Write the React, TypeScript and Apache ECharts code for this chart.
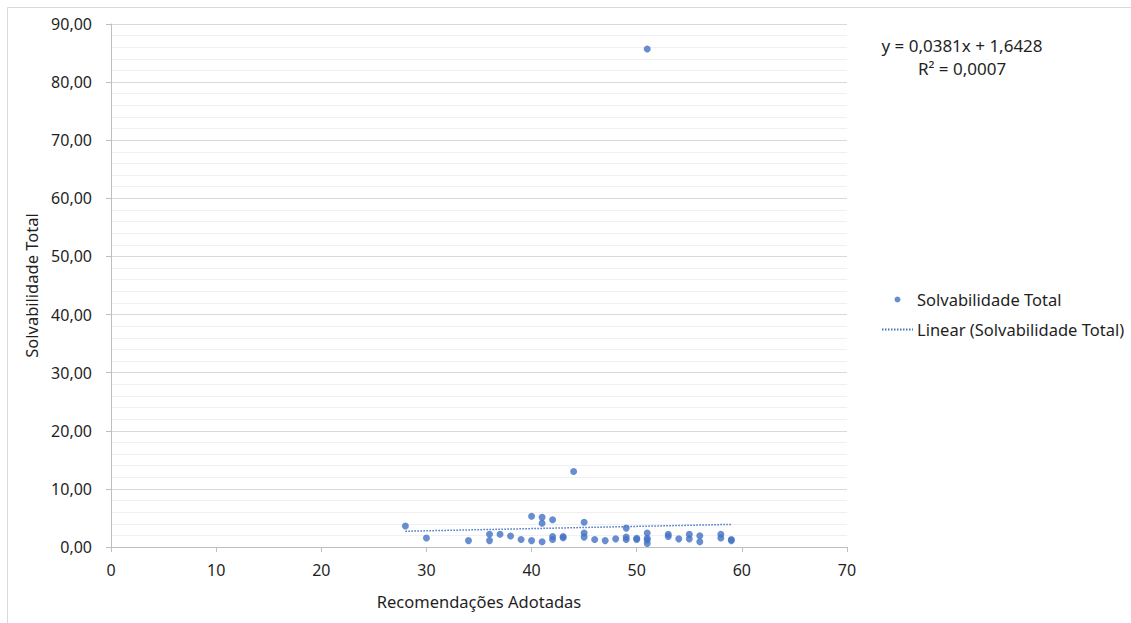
import React, { useEffect, useRef } from "react";
import * as echarts from "echarts";

// Recomendações adotadas (x) and solvabilidade total (y) per entity
const recomendacoes: number[] = [
  28, 30, 34, 36, 36, 37, 38, 39, 40, 40, 41, 41, 41, 42, 42, 42, 43, 43, 44,
  45, 45, 45, 46, 47, 48, 49, 49, 49, 50, 50, 51, 51, 51, 51, 51, 53, 53, 54,
  55, 55, 56, 56, 58, 58, 59, 59,
];
const solvabilidade: number[] = [
  3.6, 1.55, 1.1, 2.2, 1.1, 2.2, 1.9, 1.3, 5.3, 1.1, 5.1, 4.1, 0.9, 4.7, 1.8,
  1.3, 1.8, 1.6, 13.0, 4.25, 2.4, 1.7, 1.3, 1.1, 1.4, 3.25, 1.7, 1.3, 1.5, 1.3,
  85.7, 2.4, 1.5, 1.2, 0.6, 2.2, 1.8, 1.4, 2.2, 1.4, 1.95, 0.9, 2.2, 1.55, 1.3,
  1.1,
];

// Linear trend line as stated in the equation label
const slope = 0.0381;
const intercept = 1.6428;
const rSquared = 0.0007;
const trendRange: number[] = [28, 59];

const yTicks = { min: 0, max: 90, interval: 10 };
const xTicks = { min: 0, max: 70, interval: 10 };

const seriesName = "Solvabilidade Total";
const trendName = "Linear (Solvabilidade Total)";
const xTitle = "Recomendações Adotadas";
const yTitle = "Solvabilidade Total";

const fmt = (v: number, d: number) => v.toFixed(d).replace(".", ",");

const FONT = "'Noto Sans', 'Open Sans', sans-serif";
const TEXT = "#1f1f1f";
const BLUE = "#4472C4";

export default function App() {
  const ref = useRef<HTMLDivElement>(null);

  useEffect(() => {
    if (!ref.current) return;
    const chart = echarts.init(ref.current, undefined, { renderer: "svg" });

    const points = recomendacoes.map((x, i) => [x, solvabilidade[i]]);
    const trend = trendRange.map((x) => [x, slope * x + intercept]);

    chart.setOption({
      animation: false,
      backgroundColor: "#ffffff",
      textStyle: { fontFamily: FONT },
      grid: { left: 111, right: 284, top: 24, bottom: 76, containLabel: false },
      legend: {
        data: [
          { name: seriesName },
          { name: trendName, itemStyle: { color: "transparent", borderWidth: 0 } },
        ],
        orient: "vertical",
        left: 876,
        top: 286,
        itemWidth: 31,
        itemHeight: 6,
        itemGap: 13,
        textStyle: { fontFamily: FONT, fontSize: 16.5, color: TEXT, padding: [0, 0, 0, -1] },
        selectedMode: false,
      },
      xAxis: {
        type: "value",
        min: xTicks.min,
        max: xTicks.max,
        interval: xTicks.interval,
        name: xTitle,
        nameLocation: "middle",
        nameGap: 46,
        nameTextStyle: { fontFamily: FONT, fontSize: 16.5, color: TEXT },
        axisLine: { show: true, onZero: false, lineStyle: { color: "#bfbfbf", width: 1 } },
        axisTick: { show: true, length: 5, lineStyle: { color: "#bfbfbf" } },
        axisLabel: { fontFamily: FONT, fontSize: 16, color: TEXT, margin: 15 },
        splitLine: { show: false },
      },
      yAxis: {
        type: "value",
        min: yTicks.min,
        max: yTicks.max,
        interval: yTicks.interval,
        name: yTitle,
        nameLocation: "middle",
        nameGap: 71,
        nameRotate: 90,
        nameTextStyle: { fontFamily: FONT, fontSize: 16.5, color: TEXT },
        axisLine: { show: true, lineStyle: { color: "#bfbfbf", width: 1 } },
        axisTick: { show: true, length: 5, lineStyle: { color: "#bfbfbf" } },
        axisLabel: {
          fontFamily: FONT,
          fontSize: 16,
          color: TEXT,
          margin: 19,
          formatter: (v: number) => fmt(v, 2),
        },
        splitLine: { show: true, lineStyle: { color: "#d9d9d9", width: 1 } },
        minorTick: { show: false, splitNumber: 5 },
        minorSplitLine: { show: true, lineStyle: { color: "#f0f0f0", width: 1 } },
      },
      series: [
        {
          name: seriesName,
          type: "scatter",
          data: points,
          symbol: "circle",
          symbolSize: 7,
          itemStyle: { color: BLUE },
        },
        {
          name: trendName,
          type: "line",
          data: trend,
          symbol: "none",
          showSymbol: false,
          lineStyle: { color: BLUE, width: 1.5, type: [1.5, 1.5] },
          itemStyle: { color: BLUE },
        },
      ],
      graphic: [
        {
          type: "rect",
          silent: true,
          shape: { x: 7.5, y: 7.5, width: 1200, height: 700 },
          style: { fill: "none", stroke: "#d9d9d9", lineWidth: 1 },
          z: -1,
        },
        {
          type: "text",
          x: 962,
          y: 45,
          style: {
            text: `y = ${fmt(slope, 4)}x + ${fmt(intercept, 4)}`,
            fontFamily: FONT,
            fontSize: 17,
            fill: TEXT,
            align: "center",
            verticalAlign: "middle",
          },
        },
        {
          type: "text",
          x: 962,
          y: 68,
          style: {
            text: `R² = ${fmt(rSquared, 4)}`,
            fontFamily: FONT,
            fontSize: 17,
            fill: TEXT,
            align: "center",
            verticalAlign: "middle",
          },
        },
      ],
    });

    return () => chart.dispose();
  }, []);

  return (
    <div
      ref={ref}
      style={{ position: "fixed", left: 0, top: 0, width: 1131, height: 623 }}
    />
  );
}
